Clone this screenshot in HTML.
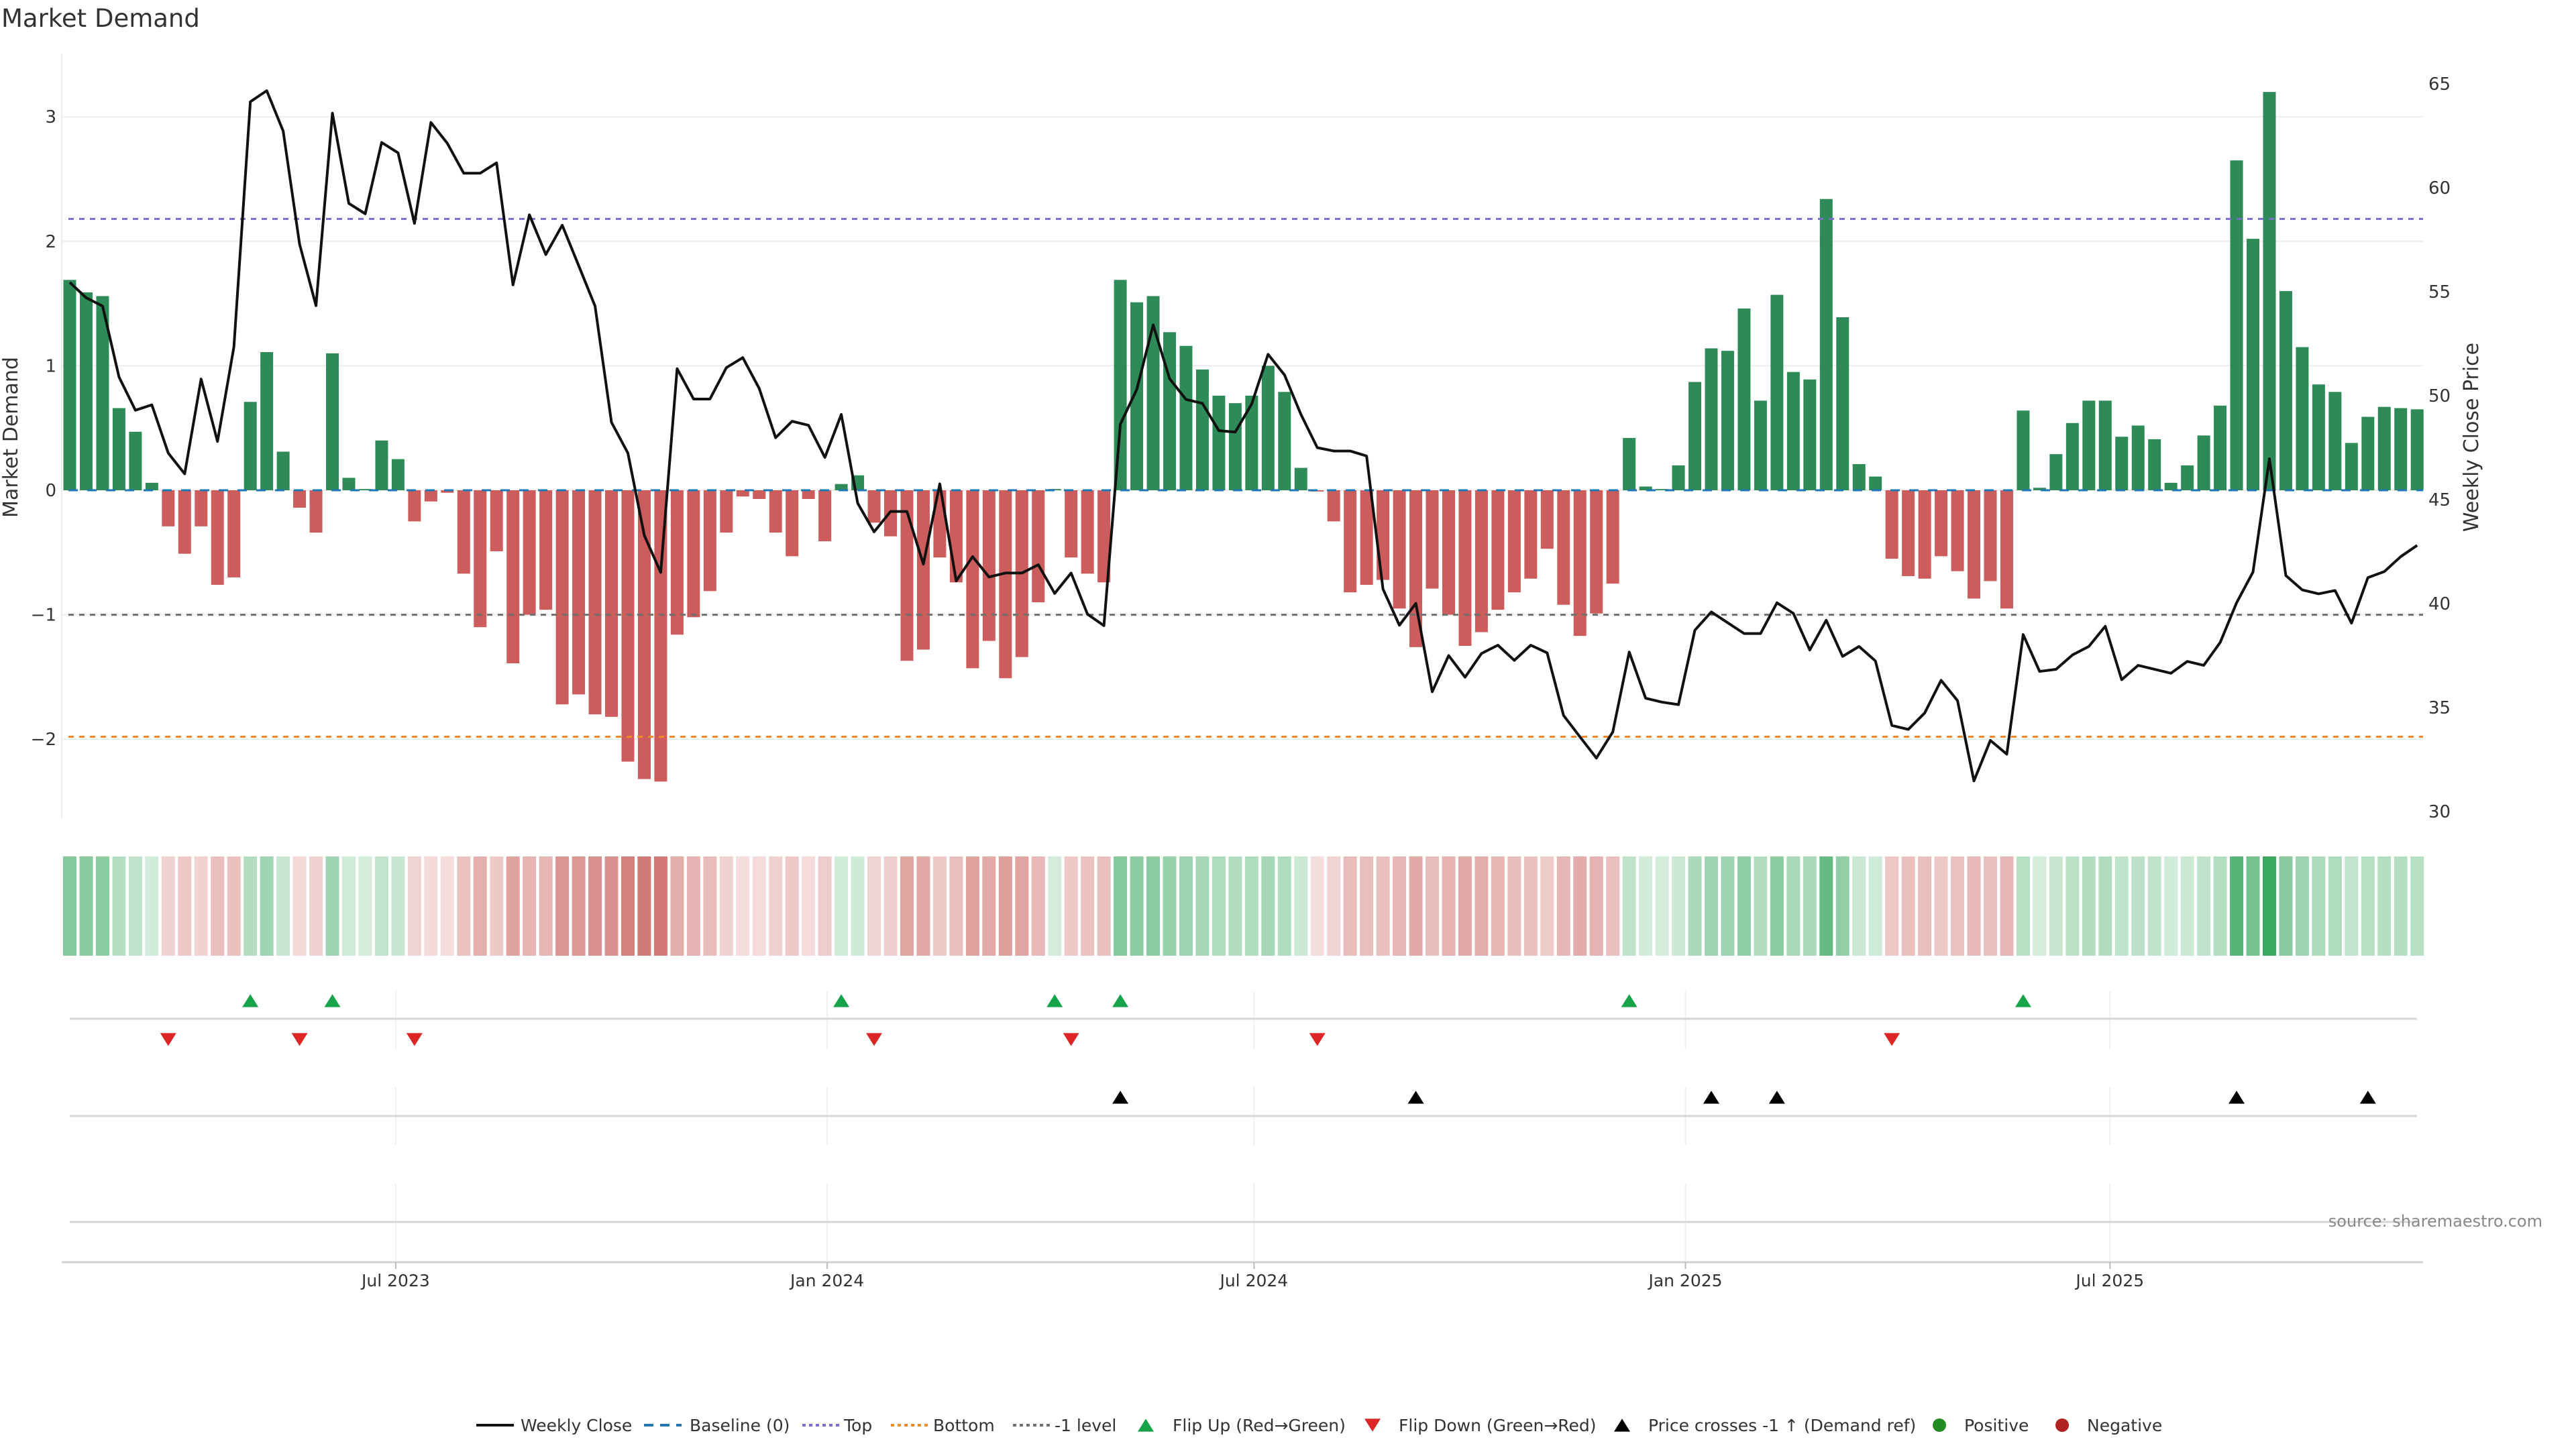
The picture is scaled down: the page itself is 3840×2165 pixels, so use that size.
<!DOCTYPE html>
<html><head><meta charset="utf-8"><style>
html,body{margin:0;padding:0;background:#fff;}
svg text{font-family:"DejaVu Sans","Liberation Sans",sans-serif;}
</style></head><body>
<svg id="chart" xmlns="http://www.w3.org/2000/svg" width="3840" height="2160" viewBox="0 0 3840 2160">
<rect width="3840" height="2160" fill="#fff"/>
<text x="2" y="40" font-size="37" fill="#333">Market Demand</text>
<g id="grid"></g><g id="bars"></g><g id="refs"></g><g id="line"></g><g id="heat"></g><g id="rows"></g><g id="axes"></g><g id="legend"></g>
</svg>
<script>
const demand=[1.69,1.59,1.56,0.66,0.47,0.06,-0.29,-0.51,-0.29,-0.76,-0.70,0.71,1.11,0.31,-0.14,-0.34,1.10,0.10,0.01,0.40,0.25,-0.25,-0.09,-0.02,-0.67,-1.10,-0.49,-1.39,-1.00,-0.96,-1.72,-1.64,-1.80,-1.82,-2.18,-2.32,-2.34,-1.16,-1.02,-0.81,-0.34,-0.05,-0.07,-0.34,-0.53,-0.07,-0.41,0.05,0.12,-0.26,-0.37,-1.37,-1.28,-0.54,-0.74,-1.43,-1.21,-1.51,-1.34,-0.90,0.01,-0.54,-0.67,-0.74,1.69,1.51,1.56,1.27,1.16,0.97,0.76,0.70,0.76,1.00,0.79,0.18,-0.01,-0.25,-0.82,-0.76,-0.72,-0.95,-1.26,-0.79,-1.00,-1.25,-1.14,-0.96,-0.82,-0.71,-0.47,-0.92,-1.17,-0.99,-0.75,0.42,0.03,0.01,0.20,0.87,1.14,1.12,1.46,0.72,1.57,0.95,0.89,2.34,1.39,0.21,0.11,-0.55,-0.69,-0.71,-0.53,-0.65,-0.87,-0.73,-0.95,0.64,0.02,0.29,0.54,0.72,0.72,0.43,0.52,0.41,0.06,0.20,0.44,0.68,2.65,2.02,3.20,1.60,1.15,0.85,0.79,0.38,0.59,0.67,0.66,0.65];
const price=[55.45,54.71,54.31,50.9,49.3,49.56,47.24,46.24,50.8,47.8,52.35,64.14,64.67,62.73,57.29,54.33,63.59,59.25,58.75,62.18,61.68,58.29,63.14,62.14,60.7,60.7,61.2,55.33,58.7,56.79,58.2,56.26,54.31,48.72,47.24,43.28,41.5,51.3,49.84,49.84,51.35,51.83,50.35,47.98,48.77,48.58,47.03,49.1,44.83,43.45,44.43,44.43,41.9,45.76,41.09,42.26,41.28,41.47,41.47,41.87,40.49,41.47,39.49,38.94,48.63,50.3,53.4,50.82,49.82,49.63,48.32,48.25,49.6,51.99,51.0,49.1,47.5,47.34,47.34,47.1,40.7,38.96,40.01,35.76,37.5,36.46,37.6,38.0,37.27,38.0,37.63,34.62,33.59,32.57,33.83,37.67,35.45,35.26,35.14,38.72,39.6,39.08,38.56,38.56,40.04,39.53,37.77,39.2,37.46,37.94,37.24,34.14,33.95,34.74,36.31,35.33,31.47,33.42,32.76,38.51,36.74,36.84,37.53,37.94,38.91,36.34,37.03,36.84,36.65,37.22,37.03,38.13,40.04,41.52,46.96,41.35,40.66,40.47,40.63,39.06,41.25,41.54,42.26,42.8];
const demandTicks=[-2,-1,0,1,2,3];
const priceTicks=[30,35,40,45,50,55,60,65];
const dateTicks=['2023-07-01','2024-01-01','2024-07-01','2025-01-01','2025-07-01'];
const dateLabels=['Jul 2023','Jan 2024','Jul 2024','Jan 2025','Jul 2025'];
const levelTop=2.18, levelMinus1=-1, levelBottom=-1.98;
const startDate='2023-02-12';

const NS='http://www.w3.org/2000/svg';
function mk(tag,attrs,parent){const e=document.createElementNS(NS,tag);for(const k in attrs)e.setAttribute(k,attrs[k]);parent.appendChild(e);return e;}
const X0=104, STEP=24.47, L=92, R=3612, T=80, B=1220;
const xi=i=>X0+i*STEP;
const yD=v=>731-v*185.6;
const yP=p=>125+(65-p)*31.0;
const xDate=s=>X0+((new Date(s)-new Date(startDate))/86400000/7)*STEP;
const G=id=>document.getElementById(id);

demandTicks.forEach(t=>{const l=mk('line',{x1:L,x2:R,y1:yD(t),y2:yD(t),stroke:'#ececec','stroke-width':2},G('grid'));
});
const la=mk('line',{x1:L,x2:L,y1:T,y2:B,stroke:'#ececec','stroke-width':2},G('grid'));


demand.forEach((v,i)=>{const y0=yD(0),y1=yD(v);
const r=mk('rect',{x:xi(i)-9.5,width:19,y:Math.min(y0,y1),height:Math.max(Math.abs(y1-y0),1),fill:v>=0?'#2e8b57':'#cd5c5c'},G('bars'));
});

[[0,'#1f77b4','14,14',3,'baseline-line'],[levelTop,'#7a6fcf','8,8',3,'top-line'],[levelMinus1,'#707070','8,8',3,'minus1-level-line'],[levelBottom,'#f08a24','8,8',3,'bottom-line']].forEach(a=>{
const l=mk('line',{x1:L+10,x2:R,y1:yD(a[0]),y2:yD(a[0]),stroke:a[1],'stroke-dasharray':a[2],'stroke-width':a[3]},G('refs'));
});

const pl=mk('polyline',{points:price.map((p,i)=>xi(i)+','+yP(p)).join(' '),fill:'none',stroke:'#111','stroke-width':4,'stroke-linejoin':'round'},G('line'));


demandTicks.forEach(t=>{const tx=mk('text',{x:84,y:yD(t)+9,'font-size':26,fill:'#333','text-anchor':'end'},G('axes'));tx.textContent=t<0?'−'+(-t):String(t);
});
priceTicks.forEach(t=>{const tx=mk('text',{x:3620,y:yP(t)+9,'font-size':26,fill:'#333'},G('axes'));tx.textContent=String(t);
});
const yt=mk('text',{x:0,y:0,'font-size':30,fill:'#333','text-anchor':'middle',transform:'translate(26,652) rotate(-90)'},G('axes'));yt.textContent='Market Demand';

const yt2=mk('text',{x:0,y:0,'font-size':30,fill:'#333','text-anchor':'middle',transform:'translate(3694,652) rotate(-90)'},G('axes'));yt2.textContent='Weekly Close Price';


demand.forEach((v,i)=>{const a=Math.min(0.2+0.22*Math.abs(v),0.92);
const c=v>=0?`rgba(40,160,80,${a})`:`rgba(200,95,90,${Math.min(0.2+0.27*Math.abs(v),0.85)})`;
const r=mk('rect',{x:xi(i)-10,width:20,y:1277,height:148,fill:c},G('heat'));
});

[[1478,1565,1519],[1620,1708,1664],[1764,1880,1822]].forEach(p=>{
dateTicks.forEach(d=>{const l=mk('line',{x1:xDate(d),x2:xDate(d),y1:p[0],y2:p[1],stroke:'#f0f0f0','stroke-width':2},G('rows'));
});
const l=mk('line',{x1:X0,x2:3603,y1:p[2],y2:p[2],stroke:'#d6d6d6','stroke-width':3},G('rows'));
});
const ax=mk('line',{x1:L,x2:R,y1:1882,y2:1882,stroke:'#d0d0d0','stroke-width':3},G('rows'));

dateTicks.forEach((d,k)=>{const x=xDate(d);
const tk=mk('line',{x1:x,x2:x,y1:1882,y2:1892,stroke:'#bbb','stroke-width':2},G('axes'));

const tx=mk('text',{x:x,y:1918,'font-size':25,fill:'#333','text-anchor':'middle'},G('axes'));tx.textContent=dateLabels[k];
});

const tri=(x,y,up,col,s)=>up?`${x-s},${y+s*0.8} ${x+s},${y+s*0.8} ${x},${y-s*0.8}`:`${x-s},${y-s*0.8} ${x+s},${y-s*0.8} ${x},${y+s*0.8}`;
const lvlPrice=65-(yD(levelMinus1)-125)/31.0;
for(let i=1;i<demand.length;i++){
 if(demand[i-1]<0&&demand[i]>=0){const m=mk('polygon',{points:tri(xi(i),1492,true,0,12),fill:'#16a34a'},G('rows'));
  }
 if(demand[i-1]>=0&&demand[i]<0){const m=mk('polygon',{points:tri(xi(i),1550,false,0,12),fill:'#dc2626'},G('rows'));
  }
 if(price[i-1]<lvlPrice&&price[i]>=lvlPrice){const m=mk('polygon',{points:tri(xi(i),1636,true,0,12),fill:'#000'},G('rows'));
  }
}
const src=mk('text',{x:3790,y:1829,'font-size':24,fill:'#888','text-anchor':'end'},G('axes'));src.textContent='source: sharemaestro.com';


const LG=G('legend'), ly=2125;
function ltext(x,t){const e=mk('text',{x:x,y:ly+9,'font-size':25,fill:'#333'},LG);e.textContent=t;}
function lline(x,col,dash,n){const e=mk('line',{x1:x,x2:x+56,y1:ly,y2:ly,stroke:col,'stroke-width':4,'stroke-dasharray':dash},LG);}
lline(710,'#111','none','legend-weekly-close');ltext(776,'Weekly Close');
lline(960,'#1f77b4','14,10','legend-baseline');ltext(1028,'Baseline (0)');
lline(1196,'#7a6fcf','5,5','legend-top');ltext(1258,'Top');
lline(1328,'#f08a24','5,5','legend-bottom');ltext(1391,'Bottom');
lline(1510,'#707070','5,5','legend-minus1');ltext(1572,'-1 level');
let m=mk('polygon',{points:tri(1708,ly,true,0,12),fill:'#16a34a'},LG);ltext(1748,'Flip Up (Red→Green)');
m=mk('polygon',{points:tri(2046,ly,false,0,12),fill:'#dc2626'},LG);ltext(2085,'Flip Down (Green→Red)');
m=mk('polygon',{points:tri(2418,ly,true,0,12),fill:'#000'},LG);ltext(2457,'Price crosses -1 ↑ (Demand ref)');
m=mk('circle',{cx:2891,cy:ly,r:10,fill:'#228b22'},LG);ltext(2928,'Positive');
m=mk('circle',{cx:3074,cy:ly,r:10,fill:'#b22222'},LG);ltext(3111,'Negative');
</script>
</body></html>
